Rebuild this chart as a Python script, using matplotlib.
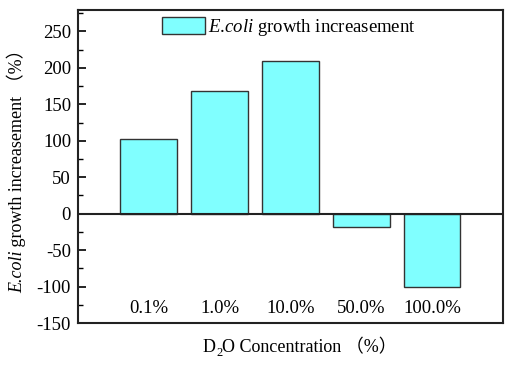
import numpy as np
import matplotlib.pyplot as plt
from matplotlib.ticker import MultipleLocator

categories = ["0.1%", "1.0%", "10.0%", "50.0%", "100.0%"]
growth = [103, 168, 210, -19, -100]

plt.rcParams['font.family'] = ['Liberation Serif', 'Noto Sans CJK SC']
plt.rcParams['axes.unicode_minus'] = False
plt.rcParams['mathtext.fontset'] = 'custom'
plt.rcParams['mathtext.rm'] = 'Liberation Serif'
plt.rcParams['mathtext.it'] = 'Liberation Serif:italic'

W, H = 510, 369
fig = plt.figure(figsize=(W / 100, H / 100), dpi=100)
ax = fig.add_axes([78 / W, 1 - 323 / H, 425 / W, 313.5 / H])

x = np.arange(1, len(categories) + 1)
ax.bar(x, growth, width=0.8, color="#80FFFF", edgecolor="#333333", linewidth=1.0,
       label=r"$\mathit{E}$.$\mathit{coli}$ growth increasement", zorder=2)
ax.axhline(0, color="#222222", linewidth=1.5, zorder=3)

for xi, lab in zip(x, categories):
    ax.text(xi, -130, lab, ha="center", va="center", fontsize=13.5)

ax.set_xlim(0, 6)
ax.set_ylim(-150, 280)
ax.set_xticks([])
ax.yaxis.set_major_locator(MultipleLocator(50))
ax.yaxis.set_minor_locator(MultipleLocator(25))
ax.tick_params(axis="y", which="major", direction="in", length=6, width=1.2,
               labelsize=13.5, pad=5)
ax.tick_params(axis="y", which="minor", direction="in", length=3.5, width=1.0)
for s in ax.spines.values():
    s.set_linewidth(1.5)
    s.set_color("#222222")

ax.legend(loc="upper center", bbox_to_anchor=(0.497, 1.0), frameon=False, fontsize=13.5,
          handlelength=2.25, handleheight=1.05, handletextpad=0.2, borderaxespad=0.0)


# labels with italic parts and CJK brackets, built from pieces
def mixed_label(pieces, cx, cy, vertical=False):
    renderer = fig.canvas.get_renderer()
    texts, widths = [], []
    for s, kw in pieces:
        t = fig.text(0, 0, s, fontsize=kw.get("size", 13), style=kw.get("style", "normal"),
                     ha="left", va="baseline", rotation_mode="anchor")
        widths.append(t.get_window_extent(renderer).width)
        texts.append(t)
    pos = -sum(widths) / 2
    for t, w, (s, kw) in zip(texts, widths, pieces):
        off = kw.get("shift", 0)
        if vertical:
            t.set_rotation(90)
            t.set_position(((cx + off) / W, 1 - (cy - pos) / H))
        else:
            t.set_position(((cx + pos) / W, 1 - (cy - off) / H))
        pos += w


mixed_label([("E.coli", {"style": "italic"}), (" growth increasement （%）", {})],
            22, 166.5, vertical=True)
mixed_label([("D", {}), ("2", {"size": 9, "shift": -4}), ("O Concentration （%）", {})],
            300, 352)

fig.savefig("out.png", dpi=100)
